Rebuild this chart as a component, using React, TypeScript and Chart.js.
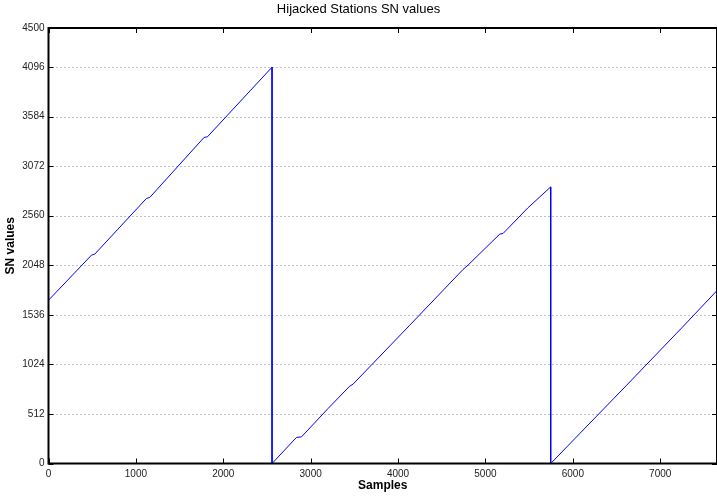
import React, { useEffect, useRef } from "react";
import { Chart, registerables } from "chart.js";

Chart.register(...registerables);

// Sample index breakpoints of the SN value trace
const sampleIdx = [0, 492, 530, 1121, 1159, 1780, 1819, 2558, 2558, 2837, 2895, 3199, 3447, 3485, 4134, 4744, 4801, 5164, 5202, 5484, 5747, 5747, 6617, 7277, 7646];
const snValues = [1687, 2153, 2164, 2739, 2749, 3369, 3376, 4095, 0, 269, 275, 568, 799, 820, 1429, 2005, 2050, 2370, 2377, 2640, 2858, 0, 810, 1430, 1783];

const xTickValues = [0, 1000, 2000, 3000, 4000, 5000, 6000, 7000];
const yTickValues = [0, 512, 1024, 1536, 2048, 2560, 3072, 3584, 4096, 4500];
const xMax = 7650;
const yMax = 4500;

const FONT = "'Liberation Sans', Arial, Helvetica, sans-serif";

const framePlugin = {
  id: "matlabFrame",
  beforeDatasetsDraw(chart: any) {
    const { ctx, chartArea } = chart;
    const ys = chart.scales.y;
    ctx.save();
    ctx.strokeStyle = "rgba(0,0,0,0.5)";
    ctx.lineWidth = 1;
    ctx.setLineDash([1, 3]);
    yTickValues.forEach((v) => {
      if (v === 0 || v === yMax) return;
      const py = Math.round(ys.getPixelForValue(v)) + 0.5;
      ctx.beginPath();
      ctx.moveTo(chartArea.left, py);
      ctx.lineTo(chartArea.right, py);
      ctx.stroke();
    });
    ctx.restore();
  },
  afterDatasetsDraw(chart: any) {
    const { ctx, chartArea } = chart;
    const xs = chart.scales.x;
    const ys = chart.scales.y;
    const { left, right, top, bottom } = chartArea;
    ctx.save();
    ctx.strokeStyle = "#000";
    ctx.lineWidth = 1;
    const tl = 5;
    xTickValues.forEach((v) => {
      const px = Math.round(xs.getPixelForValue(v)) + 0.5;
      ctx.beginPath();
      ctx.moveTo(px, bottom);
      ctx.lineTo(px, bottom - tl);
      ctx.moveTo(px, top);
      ctx.lineTo(px, top + tl);
      ctx.stroke();
    });
    yTickValues.forEach((v) => {
      const py = Math.round(ys.getPixelForValue(v)) + 0.5;
      ctx.beginPath();
      ctx.moveTo(left, py);
      ctx.lineTo(left + tl, py);
      ctx.moveTo(right, py);
      ctx.lineTo(right - tl, py);
      ctx.stroke();
    });
    ctx.lineWidth = 2;
    ctx.strokeRect(left, top, right - left, bottom - top);
    ctx.restore();
  },
};

export default function App() {
  const canvasRef = useRef<HTMLCanvasElement>(null);

  useEffect(() => {
    document.body.style.margin = "0";
    const canvas = canvasRef.current;
    if (!canvas) return;
    const data = sampleIdx.map((x, i) => ({ x, y: snValues[i] }));
    const chart = new Chart(canvas, {
      type: "line",
      data: {
        datasets: [
          {
            label: "SN",
            data,
            borderColor: "#0000ff",
            borderWidth: 1,
            pointRadius: 0,
            fill: false,
            tension: 0,
          },
        ],
      },
      options: {
        animation: false,
        responsive: false,
        maintainAspectRatio: false,
        layout: { padding: { left: 0, right: 0, top: 0, bottom: 0 } },
        plugins: {
          legend: { display: false },
          tooltip: { enabled: false },
          title: {
            display: true,
            text: "Hijacked Stations SN values",
            color: "#000",
            font: { family: FONT, size: 13, weight: "normal" },
            padding: { top: 2, bottom: 10.4 },
          },
        },
        scales: {
          x: {
            type: "linear",
            min: 0,
            max: xMax,
            afterBuildTicks: (scale: any) => {
              scale.ticks = xTickValues.map((v) => ({ value: v }));
            },
            afterFit: (scale: any) => {
              scale.height = 32.5;
            },
            grid: { display: false, drawTicks: false },
            border: { display: false },
            ticks: {
              color: "#222",
              font: { family: FONT, size: 10 },
              padding: 5,
              maxRotation: 0,
              autoSkip: false,
              callback: (v: any) => String(v),
            },
            title: {
              display: true,
              text: "Samples",
              color: "#000",
              font: { family: FONT, size: 12, weight: "bold" },
              padding: { top: 0, bottom: 3 },
            },
          },
          y: {
            type: "linear",
            min: 0,
            max: yMax,
            afterBuildTicks: (scale: any) => {
              scale.ticks = yTickValues.map((v) => ({ value: v }));
            },
            afterFit: (scale: any) => {
              scale.width = 48.5;
            },
            grid: { display: false, drawTicks: false },
            border: { display: false },
            ticks: {
              color: "#222",
              font: { family: FONT, size: 10 },
              padding: 4,
              autoSkip: false,
              callback: (v: any) => String(v),
            },
            title: {
              display: true,
              text: "SN values",
              color: "#000",
              font: { family: FONT, size: 12, weight: "bold" },
              padding: { top: 3.5, bottom: 0 },
            },
          },
        },
      },
      plugins: [framePlugin],
    });
    return () => chart.destroy();
  }, []);

  return (
    <div style={{ width: 717, height: 496 }}>
      <canvas ref={canvasRef} width={717} height={496} />
    </div>
  );
}
